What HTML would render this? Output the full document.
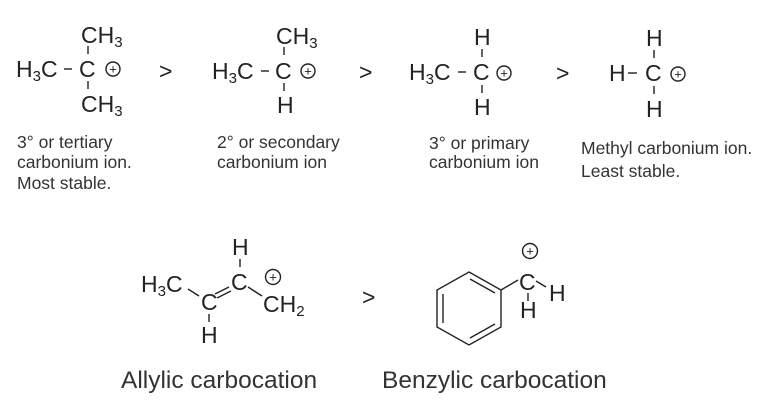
<!DOCTYPE html>
<html><head><meta charset="utf-8"><style>
html,body{margin:0;padding:0;background:#fff;}
svg{display:block;}
text{font-family:"Liberation Sans",Arial,sans-serif;fill:#222;}
.m{font-size:23px;}
.s{font-size:15px;}
.l{font-size:17.5px;fill:#333;}
.b{font-size:24.5px;fill:#333;}
.p{font-size:13px;text-anchor:middle;}
line,circle,polygon{stroke:#222;stroke-width:1.4;fill:none;}
</style></head><body>
<svg width="768" height="401" viewBox="0 0 768 401" xmlns="http://www.w3.org/2000/svg">
<!-- molecule 1 -->
<text class="m" x="81" y="43">CH<tspan class="s" dy="4">3</tspan></text>
<line x1="88" y1="46" x2="88" y2="54"/>
<text class="m" x="16" y="77">H<tspan class="s" dy="4">3</tspan><tspan dy="-4">C</tspan></text>
<line x1="64" y1="69" x2="72" y2="69"/>
<text class="m" x="79" y="77">C</text>
<circle cx="113" cy="69" r="7"/><text class="p" x="113" y="73.5">+</text>
<line x1="88" y1="81" x2="88" y2="89"/>
<text class="m" x="81" y="112">CH<tspan class="s" dy="4">3</tspan></text>
<text class="l" x="17" y="148">3° or tertiary</text>
<text class="l" x="17" y="168">carbonium ion.</text>
<text class="l" x="17" y="189">Most stable.</text>
<text class="m" x="159" y="79">&gt;</text>
<!-- molecule 2 -->
<text class="m" x="276" y="44">CH<tspan class="s" dy="4">3</tspan></text>
<line x1="284" y1="47" x2="284" y2="55"/>
<text class="m" x="212" y="79">H<tspan class="s" dy="4">3</tspan><tspan dy="-4">C</tspan></text>
<line x1="261" y1="71" x2="269" y2="71"/>
<text class="m" x="275" y="79">C</text>
<circle cx="308" cy="71" r="7"/><text class="p" x="308" y="75.5">+</text>
<line x1="284" y1="83" x2="284" y2="91"/>
<text class="m" x="277" y="113">H</text>
<text class="l" x="217" y="148">2° or secondary</text>
<text class="l" x="217" y="168">carbonium ion</text>
<text class="m" x="359" y="80">&gt;</text>
<!-- molecule 3 -->
<text class="m" x="474" y="45">H</text>
<line x1="482" y1="49" x2="482" y2="57"/>
<text class="m" x="409" y="80">H<tspan class="s" dy="4">3</tspan><tspan dy="-4">C</tspan></text>
<line x1="458" y1="72" x2="466" y2="72"/>
<text class="m" x="473" y="80">C</text>
<circle cx="504" cy="73" r="7"/><text class="p" x="504" y="77.5">+</text>
<line x1="482" y1="85" x2="482" y2="93"/>
<text class="m" x="474" y="115">H</text>
<text class="l" x="429" y="149">3° or primary</text>
<text class="l" x="429" y="168">carbonium ion</text>
<text class="m" x="556" y="81">&gt;</text>
<!-- molecule 4 -->
<text class="m" x="646" y="46">H</text>
<line x1="654" y1="50" x2="654" y2="58"/>
<text class="m" x="609" y="81">H</text>
<line x1="628" y1="73" x2="637" y2="73"/>
<text class="m" x="645" y="81">C</text>
<circle cx="678" cy="74" r="7"/><text class="p" x="678" y="78.5">+</text>
<line x1="654" y1="86" x2="654" y2="94"/>
<text class="m" x="646" y="117">H</text>
<text class="l" x="581" y="154">Methyl carbonium ion.</text>
<text class="l" x="581" y="177">Least stable.</text>
<!-- allylic -->
<text class="m" x="232" y="255">H</text>
<line x1="240" y1="259" x2="240" y2="267"/>
<text class="m" x="141" y="292">H<tspan class="s" dy="4">3</tspan><tspan dy="-4">C</tspan></text>
<line x1="188" y1="289" x2="199" y2="296"/>
<text class="m" x="201" y="310">C</text>
<line x1="215" y1="294" x2="229" y2="287"/>
<line x1="217" y1="298" x2="231" y2="291"/>
<text class="m" x="231" y="290">C</text>
<line x1="248" y1="287" x2="262" y2="296"/>
<circle cx="273" cy="277" r="7.5"/><text class="p" x="273" y="281.5">+</text>
<text class="m" x="263" y="312">CH<tspan class="s" dy="4">2</tspan></text>
<line x1="209" y1="314" x2="209" y2="322"/>
<text class="m" x="201" y="343">H</text>
<text class="m" x="362" y="305">&gt;</text>
<!-- benzylic -->
<polygon points="469,272 501,290 501,327 469,345 437,327 437,290"/>
<line x1="443" y1="294" x2="443" y2="323"/>
<line x1="470" y1="279" x2="495" y2="293"/>
<line x1="495" y1="324" x2="470" y2="338"/>
<line x1="501" y1="290" x2="518" y2="280"/>
<text class="m" x="519" y="290">C</text>
<circle cx="530" cy="251" r="7.5"/><text class="p" x="530" y="255.5">+</text>
<line x1="536" y1="281" x2="546" y2="287"/>
<text class="m" x="549" y="301">H</text>
<line x1="528" y1="293" x2="528" y2="301"/>
<text class="m" x="520" y="318">H</text>
<text class="b" x="121" y="388">Allylic carbocation</text>
<text class="b" x="382" y="388">Benzylic carbocation</text>
</svg>
</body></html>
